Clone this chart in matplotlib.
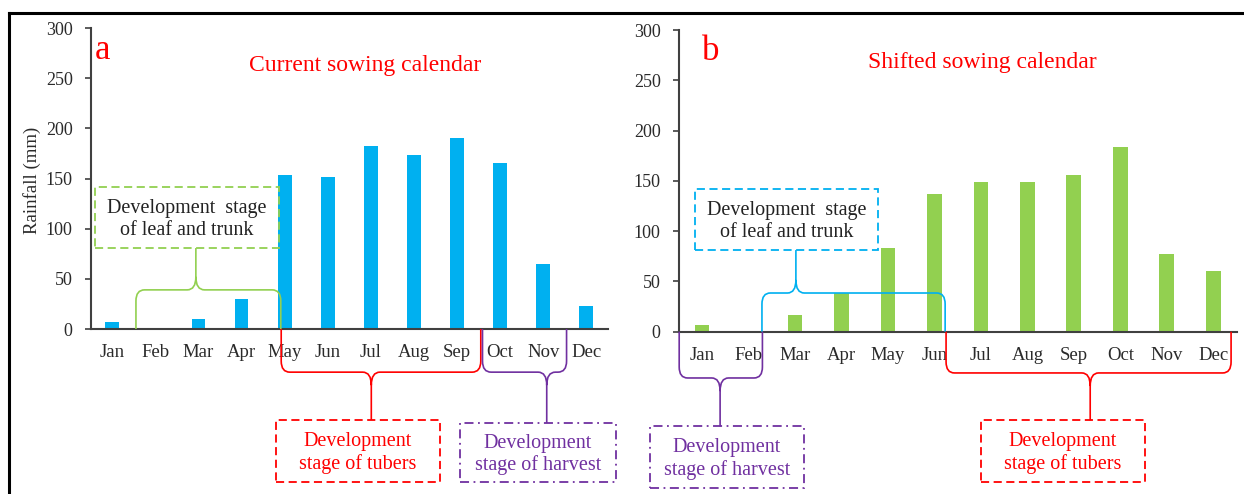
import matplotlib
matplotlib.use("Agg")
import matplotlib.pyplot as plt
from matplotlib.patches import Rectangle, PathPatch
from matplotlib.path import Path
from matplotlib.lines import Line2D

# Monthly rainfall (mm) under the two sowing calendars
months = ["Jan", "Feb", "Mar", "Apr", "May", "Jun",
          "Jul", "Aug", "Sep", "Oct", "Nov", "Dec"]
rain_current = [7, 0, 10, 30, 153, 152, 182, 173, 190, 165, 65, 23]
rain_shifted = [7, 1, 17, 39, 83, 137, 149, 149, 156, 184, 77, 60]
yticks = [0, 50, 100, 150, 200, 250, 300]

plt.rcParams["font.family"] = ["Liberation Serif", "DejaVu Serif"]

AXIS = "#404040"
TEXT = "#2a2a2a"
BLUE = "#00B0F0"
GREEN = "#92D050"
RED = "#FF0000"
PURPLE = "#7030A0"
STAGE_FS = 14.5

fig = plt.figure(figsize=(12.44, 4.94), dpi=100)
ax_a = fig.add_axes([0.0729, 0.334, 0.4158, 0.6093])
ax_b = fig.add_axes([0.5456, 0.3285, 0.4485, 0.6107])


def style(ax):
    ax.set_xlim(-0.5, 11.5)
    ax.set_ylim(0, 300)
    ax.set_yticks(yticks)
    ax.set_xticks(range(len(months)))
    ax.set_xticklabels(months)
    for s in ("top", "right"):
        ax.spines[s].set_visible(False)
    for s in ("left", "bottom"):
        ax.spines[s].set_color(AXIS)
        ax.spines[s].set_linewidth(1.5)
    ax.tick_params(axis="y", length=4, width=1.2, color=AXIS, pad=9,
                   labelsize=13, labelcolor=TEXT)
    ax.tick_params(axis="x", length=0, pad=11, labelsize=13.5,
                   labelcolor=TEXT)


def brace(ax, x0, x1, xt, level, end, color, rx=0.2, ry=11, tip=13):
    """Curly bracket from the zero line spanning x0..x1, pointing to y=end."""
    d = 1 if level > 0 else -1
    verts = [
        (x0, 0), (x0, level - d * ry),
        (x0, level), (x0 + rx, level),
        (xt - rx, level),
        (xt, level), (xt, level + d * tip),
        (x1, 0), (x1, level - d * ry),
        (x1, level), (x1 - rx, level),
        (xt + rx, level),
        (xt, level), (xt, level + d * tip),
        (xt, end),
    ]
    codes = [
        Path.MOVETO, Path.LINETO,
        Path.CURVE3, Path.CURVE3,
        Path.LINETO,
        Path.CURVE3, Path.CURVE3,
        Path.MOVETO, Path.LINETO,
        Path.CURVE3, Path.CURVE3,
        Path.LINETO,
        Path.CURVE3, Path.CURVE3,
        Path.LINETO,
    ]
    ax.add_patch(PathPatch(Path(verts, codes), fill=False, edgecolor=color,
                           lw=1.2, clip_on=False, zorder=5))


def stage_box(ax, x0, x1, y0, y1, color, text, text_color, ls):
    ax.add_patch(Rectangle((x0, y0), x1 - x0, y1 - y0, fill=False,
                           edgecolor=color, lw=1.3, linestyle=ls,
                           clip_on=False, zorder=5))
    ax.text((x0 + x1) / 2, (y0 + y1) / 2 - 2, text, color=text_color,
            fontsize=STAGE_FS, ha="center", va="center", linespacing=1.2,
            clip_on=False, zorder=6)


DASH = (0, (4.5, 2.5))
DASHDOT = (0, (5, 2.5, 1, 2.5))

# (a) current calendar
style(ax_a)
ax_a.bar(range(len(months)), rain_current, width=0.32, color=BLUE, zorder=2)
ax_a.text(-0.1135, 0.495, "Rainfall (mm)", transform=ax_a.transAxes,
          rotation=90, ha="center", va="center", fontsize=13.5, color=TEXT)
ax_a.text(-0.23, 269, "a", color=RED, fontsize=25, ha="center", va="baseline")
ax_a.text(5.86, 263, "Current sowing calendar", color=RED, fontsize=17,
          ha="center", va="center")

brace(ax_a, 0.55, 3.91, 1.94, 39, 80.7, GREEN)
stage_box(ax_a, -0.40, 3.87, 80.7, 141.5, GREEN,
          "Development  stage\nof leaf and trunk", "#222222", DASH)
brace(ax_a, 3.92, 8.55, 6.01, -43, -90.7, RED)
stage_box(ax_a, 3.80, 7.60, -152.5, -90.7, RED,
          "Development\nstage of tubers", RED, DASH)
brace(ax_a, 8.59, 10.54, 10.08, -43, -93.7, PURPLE)
stage_box(ax_a, 8.06, 11.68, -152.5, -93.7, PURPLE,
          "Development\nstage of harvest", PURPLE, DASHDOT)

# (b) shifted calendar
style(ax_b)
ax_b.bar(range(len(months)), rain_shifted, width=0.32, color=GREEN, zorder=2)
ax_b.text(0.195, 270, "b", color=RED, fontsize=25, ha="center", va="baseline")
ax_b.text(6.02, 268, "Shifted sowing calendar", color=RED, fontsize=17,
          ha="center", va="center")

brace(ax_b, 1.29, 5.23, 2.02, 38.5, 81.2, BLUE, rx=0.18)
stage_box(ax_b, -0.14, 3.79, 81.2, 141.8, BLUE,
          "Development  stage\nof leaf and trunk", "#222222", DASH)
brace(ax_b, -0.49, 1.30, 0.39, -46, -94.2, PURPLE, rx=0.18)
stage_box(ax_b, -1.12, 2.19, -155.4, -94.2, PURPLE,
          "Development\nstage of harvest", PURPLE, DASHDOT)
brace(ax_b, 5.25, 11.38, 8.35, -41, -88.2, RED, rx=0.18)
stage_box(ax_b, 6.0, 9.53, -149.0, -88.2, RED,
          "Development\nstage of tubers", RED, DASH)

# outer frame (top and left edges)
fx = 9.3 / 1244
fy = 1 - 12.7 / 494
fig.add_artist(Line2D([fx, 1], [fy, fy], transform=fig.transFigure,
                      color="black", lw=2.2))
fig.add_artist(Line2D([fx, fx], [0, fy], transform=fig.transFigure,
                      color="black", lw=2.2))

fig.savefig("out.png", dpi=100)
